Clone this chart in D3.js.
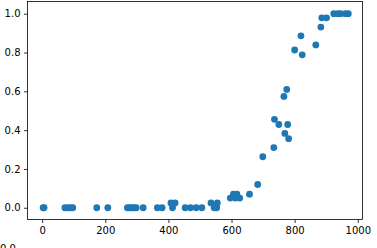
<!DOCTYPE HTML>
<html lang="en">
  <head>
     <meta charset="UTF-8">
     <title>Scatter</title>
     <style>
body {
  margin: 0;
  background: white;
}
text {
  font-family: 'DejaVu Sans', sans-serif;
  font-size: 10px;
  fill: black;
}
     </style>
  </head>
  <body>
   <div id="vis"></div>
     <script src="https://d3js.org/d3.v7.min.js"></script>
     <script>

const xValues = [3, 6, 72, 82, 90, 97, 173, 208, 270, 277, 284, 291, 298, 320,
  365, 380, 408, 413, 421, 453, 470, 488, 506, 535, 545, 553, 555,
  596, 606, 612, 617, 626, 657, 683, 699, 734, 736, 750, 769, 778, 781,
  766, 775, 800, 820, 824, 867, 883, 886, 901, 924, 937, 945, 961, 970];
const yValues = [0, 0, 0, 0, 0, 0, 0, 0, 0, 0, 0, 0, 0, 0,
  0, 0, 0.025, 0, 0.025, 0, 0, 0, 0, 0.025, 0, 0, 0.025,
  0.05, 0.07, 0.05, 0.07, 0.05, 0.07, 0.12, 0.263, 0.31, 0.456, 0.429, 0.383, 0.429, 0.356,
  0.574, 0.61, 0.813, 0.886, 0.788, 0.839, 0.931, 0.979, 0.979, 1, 1, 1, 1, 1];
const xTicks = [0, 200, 400, 600, 800, 1000];
const yTicks = [0.0, 0.2, 0.4, 0.6, 0.8, 1.0];

const width = 377;
const height = 248;
const padLeft = 27.5, padRight = 362.5, padTop = 1.5, padBottom = 219.5;

let data = xValues.map(function(v, i){
  return {x: v, y: yValues[i]};
});

let svg = d3.select("#vis").append("svg")
    .attr("width", width)
    .attr("height", height);

let xScale = d3.scaleLinear()
  .domain([-46.5, 1015])
  .range([padLeft, padRight]);
let yScale = d3.scaleLinear()
  .domain([-0.0605, 1.063])
  .range([padBottom, padTop]);

let xAxis = svg.append("g")
  .attr("transform", "translate(0," + padBottom + ")")
  .call(d3.axisBottom(xScale).tickValues(xTicks).tickFormat(d3.format("d")).tickSize(3.5).tickPadding(3.5).tickSizeOuter(0));
let yAxis = svg.append("g")
  .attr("transform", "translate(" + padLeft + ",0)")
  .call(d3.axisLeft(yScale).tickValues(yTicks).tickFormat(d3.format(".1f")).tickSize(3.5).tickPadding(3.5).tickSizeOuter(0));

svg.selectAll(".domain").remove();
svg.selectAll(".tick line").attr("stroke", "black").attr("stroke-width", 0.8);
svg.selectAll(".tick text").attr("fill", "black").style("font-size", "10px");

svg.selectAll("circle")
  .data(data)
  .enter().append("circle")
  .attr("cx", function(d){ return xScale(d.x); })
  .attr("cy", function(d){ return yScale(d.y); })
  .attr("r", 3.4)
  .style("fill", "#1f77b4");

// frame
svg.append("rect")
  .attr("x", padLeft)
  .attr("y", padTop)
  .attr("width", padRight - padLeft)
  .attr("height", padBottom - padTop)
  .attr("fill", "none")
  .attr("stroke", "black")
  .attr("stroke-width", 0.8);

// stray label cut off at the bottom edge, as in the reference
svg.append("text")
  .attr("x", 0)
  .attr("y", 252)
  .text("0.0");

     </script>
  </body>
</html>
